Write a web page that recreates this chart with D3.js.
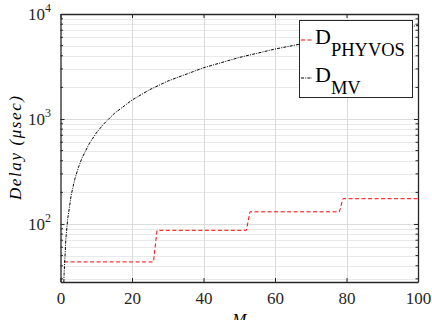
<!DOCTYPE html>
<meta charset="utf-8">
<script src="https://d3js.org/d3.v7.min.js"></script>
<style>
body { margin: 0; background: white; }
.grid-major line { stroke: #dcdcdc; stroke-width: 1px; }
.grid-minor line { stroke: #c8c8c8; stroke-width: 0.8px; stroke-dasharray: 1,1; }
</style>
<div id="chart"></div>
<script>
// D_MV curve
var mvM     = [0.94, 1, 1.5, 2, 3, 4, 5, 6, 8, 10, 12, 15, 20, 25, 30, 40, 50, 60, 70, 80, 90, 100];
var mvDelay = [28, 33, 72, 111, 189, 267, 345, 423, 579, 735, 890, 1125, 1515, 1905, 2295, 3075, 3855, 4635, 5415, 6195, 6975, 7755];

// D_PHYVOS staircase
var phyM     = [1, 26, 27, 52, 53, 78, 79, 100];
var phyDelay = [43.5, 43.5, 87, 87, 130.5, 130.5, 174, 174];

var xTicks = [0, 20, 40, 60, 80, 100];
var yDecades = [100, 1000, 10000];
var yMinor = [30, 40, 50, 60, 70, 80, 90, 200, 300, 400, 500, 600, 700, 800, 900,
              2000, 3000, 4000, 5000, 6000, 7000, 8000, 9000];

var W = 432, H = 320;
var pL = 60.5, pR = 418, pT = 14, pB = 282;
var serif = "'Liberation Serif', 'Times New Roman', serif";

var svg = d3.select("#chart").append("svg").attr("width", W).attr("height", H)
  .style("font-family", serif);

var x = d3.scaleLinear().domain([0, 100]).range([pL, pR]);
var y = d3.scaleLog().domain([28, 10000]).range([pB, pT]);

// grid
svg.append("g").attr("class", "grid-minor").selectAll("line").data(yMinor).enter().append("line")
  .attr("x1", pL).attr("x2", pR)
  .attr("y1", function(d) { return Math.round(y(d)) + 0.5; })
  .attr("y2", function(d) { return Math.round(y(d)) + 0.5; });
svg.append("g").attr("class", "grid-major").selectAll("line").data(yDecades.slice(0, 2)).enter().append("line")
  .attr("x1", pL).attr("x2", pR)
  .attr("y1", function(d) { return Math.round(y(d)) + 0.5; })
  .attr("y2", function(d) { return Math.round(y(d)) + 0.5; });
svg.append("g").attr("class", "grid-major").selectAll("line").data(xTicks.slice(1, 5)).enter().append("line")
  .attr("y1", pT).attr("y2", pB)
  .attr("x1", function(d) { return Math.round(x(d)) + 0.5; })
  .attr("x2", function(d) { return Math.round(x(d)) + 0.5; });

// lines
svg.append("clipPath").attr("id", "clip").append("rect")
  .attr("x", pL).attr("y", pT).attr("width", pR - pL).attr("height", pB - pT);

var line = d3.line().x(function(d) { return x(d[0]); }).y(function(d) { return y(d[1]); });

svg.append("path").datum(d3.zip(phyM, phyDelay)).attr("clip-path", "url(#clip)")
  .attr("d", line).attr("fill", "none").attr("stroke", "#ff0000").attr("stroke-width", 1)
  .attr("stroke-dasharray", "4,2.5");
svg.append("path").datum(d3.zip(mvM, mvDelay)).attr("clip-path", "url(#clip)")
  .attr("d", line).attr("fill", "none").attr("stroke", "#000").attr("stroke-width", 1)
  .attr("stroke-dasharray", "3,1.2,1,1.2");

// axes (ticks inward, box)
var ax = "#262626";
svg.append("g").attr("transform", "translate(0," + pB + ")")
  .call(d3.axisBottom(x).tickValues(xTicks).tickSizeInner(-4).tickSizeOuter(0).tickPadding(10))
  .call(function(g) {
    g.attr("font-family", null);
    g.select(".domain").attr("stroke", ax).attr("stroke-width", 1.3);
    g.selectAll(".tick line").attr("stroke", ax);
    g.selectAll("text").attr("font-size", 17).attr("fill", "#262626").style("font-family", serif);
  });
svg.append("g").attr("transform", "translate(0," + pT + ")")
  .call(d3.axisTop(x).tickValues(xTicks).tickSizeInner(-4).tickSizeOuter(0).tickFormat(""))
  .call(function(g) {
    g.select(".domain").attr("stroke", ax).attr("stroke-width", 1.3);
    g.selectAll(".tick line").attr("stroke", ax);
  });

function yAxisSide(axisFn, pos, dir) {
  var g = svg.append("g").attr("transform", "translate(" + pos + ",0)");
  g.call(axisFn(y).tickValues(yDecades).tickSizeInner(-4).tickSizeOuter(0).tickFormat(""));
  g.select(".domain").attr("stroke", ax).attr("stroke-width", 1.3);
  g.selectAll(".tick line").attr("stroke", ax);
  g.selectAll(".minor").data(yMinor).enter().append("line").attr("class", "minor")
    .attr("x1", 0).attr("x2", 2.5 * dir)
    .attr("y1", function(d) { return y(d); }).attr("y2", function(d) { return y(d); })
    .attr("stroke", ax);
  return g;
}
yAxisSide(d3.axisLeft, pL, 1);
yAxisSide(d3.axisRight, pR, -1);

// y tick labels 10^n
var ylab = svg.append("g").selectAll("text").data(yDecades).enter().append("text")
  .attr("x", 51).attr("y", function(d) { return y(d) + 6; })
  .attr("text-anchor", "end").attr("font-size", 17).attr("fill", "#262626")
  .style("font-family", serif);
ylab.append("tspan").text("10");
ylab.append("tspan").attr("dy", -8).attr("font-size", 12).text(function(d) { return Math.round(Math.log10(d)); });

// axis titles
svg.append("text").attr("transform", "translate(21," + ((pT + pB) / 2) + ") rotate(-90)")
  .attr("text-anchor", "middle").attr("font-style", "italic").attr("font-size", 17)
  .attr("textLength", 104).attr("lengthAdjust", "spacing").style("font-family", serif)
  .text("Delay (\u03bcsec)");
svg.append("text").attr("x", x(50)).attr("y", 325).attr("text-anchor", "middle")
  .attr("font-style", "italic").attr("font-size", 17).style("font-family", serif).text("M");

// legend
var lg = svg.append("g");
lg.append("rect").attr("x", 299.5).attr("y", 20.5).attr("width", 113).attr("height", 77)
  .attr("fill", "white").attr("stroke", "#262626").attr("stroke-width", 1);
var items = [
  { main: "D", sub: "PHYVOS", color: "#ff0000", dash: "4,2.5", y: 40 },
  { main: "D", sub: "MV", color: "#000", dash: "3,1.2,1,1.2", y: 78 }
];
items.forEach(function(it) {
  lg.append("line").attr("x1", 301).attr("x2", 312).attr("y1", it.y).attr("y2", it.y)
    .attr("stroke", it.color).attr("stroke-dasharray", it.dash);
  var t = lg.append("text").attr("x", 315).attr("y", it.y + 3.5).attr("font-size", 22)
    .attr("fill", "#000").style("font-family", serif);
  t.append("tspan").text(it.main);
  t.append("tspan").attr("dy", 12).attr("font-size", 18.5).text(it.sub);
});
</script>
